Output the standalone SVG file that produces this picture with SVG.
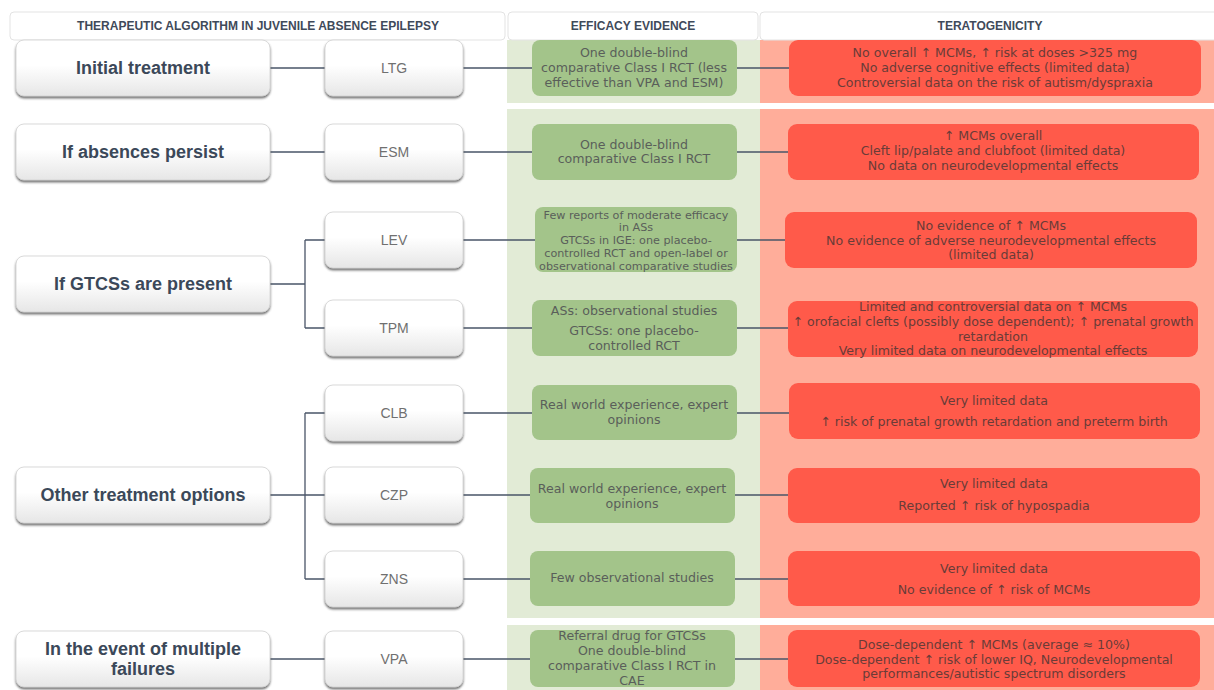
<svg xmlns="http://www.w3.org/2000/svg" width="1214" height="690" viewBox="0 0 1214 690">
<defs>
<linearGradient id="wg" x1="0" y1="0" x2="0" y2="1">
<stop offset="0" stop-color="#ffffff"/>
<stop offset="0.45" stop-color="#ffffff"/>
<stop offset="1" stop-color="#e6e6e6"/>
</linearGradient>
<filter id="sh" x="-10%" y="-20%" width="120%" height="150%">
<feDropShadow dx="0" dy="2" stdDeviation="1.3" flood-color="#404040" flood-opacity="0.75"/>
</filter>
</defs>
<style>
.hdr{fill:#ffffff;stroke:#e3e3e3;stroke-width:1}
.ht{font-family:"Liberation Sans",Arial,sans-serif;font-weight:bold;font-size:12px;fill:#3f4a5a;text-anchor:middle}
.lb{fill:url(#wg);stroke:#d0d0d0;stroke-width:0.8;filter:url(#sh)}
.lt{font-family:"Liberation Sans",Arial,sans-serif;font-weight:bold;font-size:18px;fill:#3b4859;text-anchor:middle}
.dt{font-family:"Liberation Sans",Arial,sans-serif;font-size:14px;fill:#707070;text-anchor:middle}
.gbg{fill:#e2ebd6}
.rbg{fill:#ffad9a}
.gb{fill:#a3c48a}
.rb{fill:#ff5a4a}
.gt{font-family:"DejaVu Sans",Verdana,sans-serif;font-size:12.6px;fill:#5a5f5a;text-anchor:middle}
.gs{font-family:"DejaVu Sans",Verdana,sans-serif;font-size:11.2px;fill:#5a5f5a;text-anchor:middle}
.rt{font-family:"DejaVu Sans",Verdana,sans-serif;font-size:12.6px;fill:#6a3c38;text-anchor:middle}
.cn{fill:none;stroke:#4a5568;stroke-width:1.3}
</style>

<rect x="0" y="0" width="1214" height="690" fill="#ffffff"/>

<g id="backgrounds">
<rect class="gbg" x="507" y="40" width="253" height="63"/>
<rect class="rbg" x="760" y="40" width="454" height="63"/>
<rect class="gbg" x="507" y="109" width="253" height="509"/>
<rect class="rbg" x="760" y="109" width="454" height="509"/>
<rect class="gbg" x="507" y="625" width="253" height="65"/>
<rect class="rbg" x="760" y="625" width="454" height="65"/>
</g>

<g id="headers">
<rect class="hdr" x="10" y="12" width="495" height="28" rx="4"/>
<text class="ht" x="258" y="30">THERAPEUTIC ALGORITHM IN JUVENILE ABSENCE EPILEPSY</text>
<rect class="hdr" x="508" y="12" width="250" height="28" rx="4"/>
<text class="ht" x="633" y="30">EFFICACY EVIDENCE</text>
<rect class="hdr" x="760" y="12" width="460" height="28" rx="4"/>
<text class="ht" x="990" y="30">TERATOGENICITY</text>
</g>

<g id="connectors">
<path class="cn" d="M270 68H325 M463 68H532 M737 68H789"/>
<path class="cn" d="M270 152H325 M463 152H532 M737 152H788"/>
<path class="cn" d="M270 284H305 M305 240V328 M305 240H325 M305 328H325"/>
<path class="cn" d="M463 240H535 M737 240H785"/>
<path class="cn" d="M463 328H532 M737 328H788"/>
<path class="cn" d="M270 495H325 M305 413V579 M305 413H325 M305 579H325"/>
<path class="cn" d="M463 413H532 M737 413H789"/>
<path class="cn" d="M463 495H530 M735 495H788"/>
<path class="cn" d="M463 579H530 M735 579H788"/>
<path class="cn" d="M270 659H325 M463 659H530 M735 659H788"/>
</g>

<g id="n-initial"><rect class="lb" x="16" y="40" width="254" height="56" rx="8"/><text class="lt" x="143" y="74">Initial treatment</text></g>
<g id="n-absences"><rect class="lb" x="16" y="124" width="254" height="56" rx="8"/><text class="lt" x="143" y="158">If absences persist</text></g>
<g id="n-gtcs"><rect class="lb" x="16" y="256" width="254" height="56" rx="8"/><text class="lt" x="143" y="290">If GTCSs are present</text></g>
<g id="n-other"><rect class="lb" x="16" y="467" width="254" height="56" rx="8"/><text class="lt" x="143" y="501">Other treatment options</text></g>
<g id="n-multiple"><rect class="lb" x="16" y="631" width="254" height="56" rx="8"/><text class="lt" x="143" y="655">In the event of multiple</text><text class="lt" x="143" y="675">failures</text></g>

<g id="d-ltg"><rect class="lb" x="325" y="40" width="138" height="56" rx="8"/><text class="dt" x="394" y="73">LTG</text></g>
<g id="d-esm"><rect class="lb" x="325" y="124" width="138" height="56" rx="8"/><text class="dt" x="394" y="157">ESM</text></g>
<g id="d-lev"><rect class="lb" x="325" y="212" width="138" height="56" rx="8"/><text class="dt" x="394" y="245">LEV</text></g>
<g id="d-tpm"><rect class="lb" x="325" y="300" width="138" height="56" rx="8"/><text class="dt" x="394" y="333">TPM</text></g>
<g id="d-clb"><rect class="lb" x="325" y="385" width="138" height="56" rx="8"/><text class="dt" x="394" y="418">CLB</text></g>
<g id="d-czp"><rect class="lb" x="325" y="467" width="138" height="56" rx="8"/><text class="dt" x="394" y="500">CZP</text></g>
<g id="d-zns"><rect class="lb" x="325" y="551" width="138" height="56" rx="8"/><text class="dt" x="394" y="584">ZNS</text></g>
<g id="d-vpa"><rect class="lb" x="325" y="631" width="138" height="56" rx="8"/><text class="dt" x="394" y="664">VPA</text></g>

<g id="e-ltg"><rect class="gb" x="532" y="40" width="205" height="56" rx="8"/>
<text class="gt" x="634" y="57">One double-blind</text><text class="gt" x="634" y="72">comparative Class I RCT (less</text><text class="gt" x="634" y="87">effective than VPA  and ESM)</text></g>
<g id="e-esm"><rect class="gb" x="532" y="124" width="205" height="56" rx="8"/>
<text class="gt" x="634" y="149">One double-blind</text><text class="gt" x="634" y="163">comparative Class I RCT</text></g>
<g id="e-lev"><rect class="gb" x="535" y="207" width="202" height="65" rx="8"/>
<text class="gs" x="636" y="219">Few reports of moderate efficacy</text><text class="gs" x="636" y="231">in ASs</text><text class="gs" x="636" y="244">GTCSs in IGE: one placebo-</text><text class="gs" x="636" y="257">controlled  RCT and open-label or</text><text class="gs" x="636" y="270">observational comparative studies</text></g>
<g id="e-tpm"><rect class="gb" x="532" y="300" width="205" height="56" rx="8"/>
<text class="gt" x="634" y="315">ASs:  observational studies</text><text class="gt" x="634" y="335">GTCSs:  one placebo-</text><text class="gt" x="634" y="350">controlled RCT</text></g>
<g id="e-clb"><rect class="gb" x="532" y="385" width="205" height="55" rx="8"/>
<text class="gt" x="634" y="409">Real world experience, expert</text><text class="gt" x="634" y="424">opinions</text></g>
<g id="e-czp"><rect class="gb" x="530" y="468" width="205" height="55" rx="8"/>
<text class="gt" x="632" y="493">Real world experience, expert</text><text class="gt" x="632" y="508">opinions</text></g>
<g id="e-zns"><rect class="gb" x="530" y="551" width="205" height="55" rx="8"/>
<text class="gt" x="632" y="582">Few observational studies</text></g>
<g id="e-vpa"><rect class="gb" x="530" y="630" width="205" height="57" rx="8"/>
<text class="gt" x="632" y="640">Referral drug for GTCSs</text><text class="gt" x="632" y="655">One double-blind</text><text class="gt" x="632" y="670">comparative Class I RCT in</text><text class="gt" x="632" y="685">CAE</text></g>

<g id="t-ltg"><rect class="rb" x="789" y="40" width="412" height="56" rx="9"/>
<text class="rt" x="995" y="57">No overall ↑ MCMs, ↑ risk at doses &gt;325 mg</text><text class="rt" x="995" y="72">No adverse cognitive effects (limited data)</text><text class="rt" x="995" y="87">Controversial data on the risk of autism/dyspraxia</text></g>
<g id="t-esm"><rect class="rb" x="788" y="124" width="411" height="56" rx="9"/>
<text class="rt" x="993" y="140">↑ MCMs overall</text><text class="rt" x="993" y="155">Cleft lip/palate and clubfoot (limited data)</text><text class="rt" x="993" y="170">No data on neurodevelopmental effects</text></g>
<g id="t-lev"><rect class="rb" x="785" y="212" width="412" height="56" rx="9"/>
<text class="rt" x="991" y="230">No evidence of ↑ MCMs</text><text class="rt" x="991" y="245">No evidence of  adverse neurodevelopmental effects</text><text class="rt" x="991" y="259">(limited data)</text></g>
<g id="t-tpm"><rect class="rb" x="788" y="301" width="410" height="56" rx="9"/>
<text class="rt" x="993" y="311">Limited and controversial data on ↑ MCMs</text><text class="rt" x="993" y="326">↑ orofacial clefts  (possibly dose dependent); ↑ prenatal growth</text><text class="rt" x="993" y="341">retardation</text><text class="rt" x="993" y="355">Very limited data on neurodevelopmental effects</text></g>
<g id="t-clb"><rect class="rb" x="789" y="383" width="411" height="56" rx="9"/>
<text class="rt" x="994" y="405">Very limited data</text><text class="rt" x="994" y="426">↑ risk of prenatal growth retardation and preterm birth</text></g>
<g id="t-czp"><rect class="rb" x="788" y="468" width="412" height="55" rx="9"/>
<text class="rt" x="994" y="488">Very limited data</text><text class="rt" x="994" y="510">Reported ↑ risk of hypospadia</text></g>
<g id="t-zns"><rect class="rb" x="788" y="551" width="412" height="55" rx="9"/>
<text class="rt" x="994" y="573">Very limited data</text><text class="rt" x="994" y="594">No evidence of ↑ risk of MCMs</text></g>
<g id="t-vpa"><rect class="rb" x="788" y="630" width="412" height="57" rx="9"/>
<text class="rt" x="994" y="649">Dose-dependent ↑ MCMs  (average ≈ 10%)</text><text class="rt" x="994" y="664">Dose-dependent ↑ risk of lower IQ, Neurodevelopmental</text><text class="rt" x="994" y="678">performances/autistic spectrum disorders</text></g>
</svg>
